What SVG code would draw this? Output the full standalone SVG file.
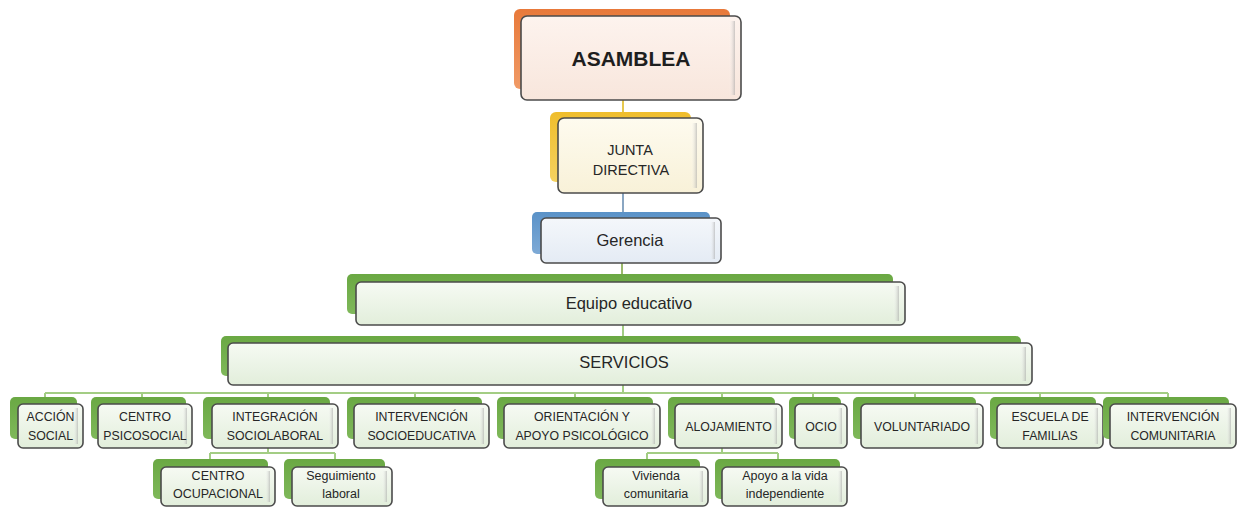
<svg xmlns="http://www.w3.org/2000/svg" width="1241" height="508" viewBox="0 0 1241 508">
  <defs>
    <linearGradient id="fillGreen" x1="0" y1="0" x2="0" y2="1">
      <stop offset="0" stop-color="#f6faf3"/>
      <stop offset="1" stop-color="#e2eedb"/>
    </linearGradient>
    <linearGradient id="fillPeach" x1="0" y1="0" x2="0" y2="1">
      <stop offset="0" stop-color="#fdf3ee"/>
      <stop offset="1" stop-color="#f8e6dc"/>
    </linearGradient>
    <linearGradient id="fillCream" x1="0" y1="0" x2="0" y2="1">
      <stop offset="0" stop-color="#fefbef"/>
      <stop offset="1" stop-color="#f8f1d8"/>
    </linearGradient>
    <linearGradient id="fillBlue" x1="0" y1="0" x2="0" y2="1">
      <stop offset="0" stop-color="#f4f7fb"/>
      <stop offset="1" stop-color="#e4ebf4"/>
    </linearGradient>
    <linearGradient id="backGreen" x1="0" y1="0" x2="0" y2="1">
      <stop offset="0" stop-color="#6aa843"/>
      <stop offset="1" stop-color="#7fb85a"/>
    </linearGradient>
    <linearGradient id="backOrange" x1="0" y1="0" x2="0" y2="1">
      <stop offset="0" stop-color="#e8793a"/>
      <stop offset="1" stop-color="#f09a66"/>
    </linearGradient>
    <linearGradient id="backYellow" x1="0" y1="0" x2="0" y2="1">
      <stop offset="0" stop-color="#efbd2c"/>
      <stop offset="1" stop-color="#f5d260"/>
    </linearGradient>
    <linearGradient id="backBlue" x1="0" y1="0" x2="0" y2="1">
      <stop offset="0" stop-color="#5a92c8"/>
      <stop offset="1" stop-color="#7eaad6"/>
    </linearGradient>
    <linearGradient id="shade" x1="0" y1="0" x2="1" y2="0">
      <stop offset="0" stop-color="#ffffff" stop-opacity="0"/>
      <stop offset="1" stop-color="#a0a0a0" stop-opacity="0.55"/>
    </linearGradient>
  </defs>
  <style>
    .front { stroke: #4b4b4b; stroke-width: 1.6; }
    .fg { fill: url(#fillGreen); }
    .fo { fill: url(#fillPeach); }
    .fy { fill: url(#fillCream); }
    .fb { fill: url(#fillBlue); }
    .bg { fill: url(#backGreen); }
    .bo { fill: url(#backOrange); }
    .by { fill: url(#backYellow); }
    .bb { fill: url(#backBlue); }
    .shade { fill: url(#shade); }
    text { font-family: "Liberation Sans", Arial, sans-serif; fill: #262626; text-anchor: middle; }
    .title { font-size: 21px; font-weight: bold; fill: #1e1e1e; }
    .mid { font-size: 16.5px; }
    .junta { font-size: 14.5px; }
    .small { font-size: 12.3px; }
    .sub { font-size: 12.5px; }
    .conn { fill: none; stroke: #a3cd84; stroke-width: 2; }
    .c-yellow { stroke: #e6c84e; }
    .c-blue { stroke: #8aa6c2; }
    .c-olive { stroke: #9bb96c; }
  </style>

  <!-- connectors -->
  <g id="connectors">
    <path class="conn c-yellow" d="M623,100 V118"/>
    <path class="conn c-blue" d="M623,193 V218"/>
    <path class="conn c-olive" d="M622,263 V282"/>
    <path class="conn" d="M623,325 V343"/>
    <path class="conn" d="M623,385 V393"/>
    <path class="conn" d="M45,393 H1168"/>
    <path class="conn" d="M45,393 V400 M142,393 V400 M268,393 V400 M415,393 V400 M575,393 V400 M722,393 V400 M813,393 V400 M915,393 V400 M1040,393 V400 M1168,393 V400"/>
    <path class="conn" d="M268,447 V453 M210,453 H335 M210,453 V462 M335,453 V462"/>
    <path class="conn" d="M722,447 V453 M647,453 H778 M647,453 V462 M778,453 V462"/>
  </g>

  <g id="asamblea">
    <rect class="bo" x="514" y="9" width="216" height="80" rx="6"/>
    <rect class="front fo" x="521" y="16" width="220" height="84" rx="6"/>
    <rect class="shade" x="729" y="21" width="6" height="74"/>
    <text class="title" x="631" y="66">ASAMBLEA</text>
  </g>

  <g id="junta-directiva">
    <rect class="by" x="550" y="112" width="141" height="70" rx="6"/>
    <rect class="front fy" x="558" y="118" width="145" height="75" rx="6"/>
    <rect class="shade" x="691" y="123" width="6" height="65"/>
    <text class="junta" x="630" y="155">JUNTA</text>
    <text class="junta" x="631" y="175">DIRECTIVA</text>
  </g>

  <g id="gerencia">
    <rect class="bb" x="532" y="212" width="178" height="42" rx="5"/>
    <rect class="front fb" x="541" y="218" width="180" height="45" rx="5"/>
    <rect class="shade" x="710" y="222" width="5" height="37"/>
    <text class="mid" x="630" y="246">Gerencia</text>
  </g>

  <g id="equipo-educativo">
    <rect class="bg" x="347" y="274" width="546" height="40" rx="5"/>
    <rect class="front fg" x="356" y="282" width="549" height="43" rx="5"/>
    <rect class="shade" x="893" y="286" width="6" height="35"/>
    <text class="mid" x="629" y="309">Equipo educativo</text>
  </g>

  <g id="servicios">
    <rect class="bg" x="221" y="336" width="800" height="40" rx="5"/>
    <rect class="front fg" x="228" y="343" width="804" height="42" rx="5"/>
    <rect class="shade" x="1020" y="347" width="6" height="34"/>
    <text class="mid" x="624" y="368">SERVICIOS</text>
  </g>

  <!-- service units -->
  <g id="accion-social">
    <rect class="bg" x="10" y="397" width="67" height="42" rx="5"/>
    <rect class="front fg" x="18" y="404" width="65" height="44" rx="5"/>
    <rect class="shade" x="73" y="408" width="5" height="36"/>
    <text class="small" x="50.5" y="421">ACCIÓN</text>
    <text class="small" x="50.5" y="440">SOCIAL</text>
  </g>

  <g id="centro-psicosocial">
    <rect class="bg" x="91" y="397" width="95" height="42" rx="5"/>
    <rect class="front fg" x="98" y="404" width="94" height="44" rx="5"/>
    <rect class="shade" x="182" y="408" width="5" height="36"/>
    <text class="small" x="145" y="421">CENTRO</text>
    <text class="small" x="145" y="440">PSICOSOCIAL</text>
  </g>

  <g id="integracion-sociolaboral">
    <rect class="bg" x="203" y="397" width="127" height="42" rx="5"/>
    <rect class="front fg" x="212" y="404" width="126" height="44" rx="5"/>
    <rect class="shade" x="328" y="408" width="5" height="36"/>
    <text class="small" x="275" y="421">INTEGRACIÓN</text>
    <text class="small" x="275" y="440">SOCIOLABORAL</text>
  </g>

  <g id="intervencion-socioeducativa">
    <rect class="bg" x="347" y="397" width="135" height="42" rx="5"/>
    <rect class="front fg" x="354" y="404" width="135" height="44" rx="5"/>
    <rect class="shade" x="479" y="408" width="5" height="36"/>
    <text class="small" x="421.5" y="421">INTERVENCIÓN</text>
    <text class="small" x="421.5" y="440">SOCIOEDUCATIVA</text>
  </g>

  <g id="orientacion-apoyo">
    <rect class="bg" x="497" y="397" width="156" height="42" rx="5"/>
    <rect class="front fg" x="504" y="404" width="156" height="44" rx="5"/>
    <rect class="shade" x="650" y="408" width="5" height="36"/>
    <text class="small" x="582" y="421">ORIENTACIÓN Y</text>
    <text class="small" x="582" y="440">APOYO PSICOLÓGICO</text>
  </g>

  <g id="alojamiento">
    <rect class="bg" x="668" y="397" width="107" height="42" rx="5"/>
    <rect class="front fg" x="675" y="404" width="107" height="44" rx="5"/>
    <rect class="shade" x="772" y="408" width="5" height="36"/>
    <text class="small" x="728.5" y="431">ALOJAMIENTO</text>
  </g>

  <g id="ocio">
    <rect class="bg" x="789" y="397" width="52" height="42" rx="5"/>
    <rect class="front fg" x="795" y="404" width="52" height="44" rx="5"/>
    <rect class="shade" x="837" y="408" width="5" height="36"/>
    <text class="small" x="821" y="431">OCIO</text>
  </g>

  <g id="voluntariado">
    <rect class="bg" x="853" y="397" width="123" height="42" rx="5"/>
    <rect class="front fg" x="861" y="404" width="122" height="44" rx="5"/>
    <rect class="shade" x="973" y="408" width="5" height="36"/>
    <text class="small" x="922" y="431">VOLUNTARIADO</text>
  </g>

  <g id="escuela-familias">
    <rect class="bg" x="990" y="397" width="106" height="42" rx="5"/>
    <rect class="front fg" x="997" y="404" width="106" height="44" rx="5"/>
    <rect class="shade" x="1093" y="408" width="5" height="36"/>
    <text class="small" x="1050" y="421">ESCUELA DE</text>
    <text class="small" x="1050" y="440">FAMILIAS</text>
  </g>

  <g id="intervencion-comunitaria">
    <rect class="bg" x="1103" y="397" width="126" height="42" rx="5"/>
    <rect class="front fg" x="1110" y="404" width="126" height="44" rx="5"/>
    <rect class="shade" x="1226" y="408" width="5" height="36"/>
    <text class="small" x="1173" y="421">INTERVENCIÓN</text>
    <text class="small" x="1173" y="440">COMUNITARIA</text>
  </g>

  <!-- second-level units -->
  <g id="centro-ocupacional">
    <rect class="bg" x="153" y="459" width="115" height="40" rx="5"/>
    <rect class="front fg" x="161" y="467" width="114" height="39" rx="5"/>
    <rect class="shade" x="265" y="471" width="5" height="31"/>
    <text class="sub" x="218" y="480">CENTRO</text>
    <text class="sub" x="218" y="498">OCUPACIONAL</text>
  </g>

  <g id="seguimiento-laboral">
    <rect class="bg" x="284" y="459" width="101" height="40" rx="5"/>
    <rect class="front fg" x="292" y="467" width="100" height="39" rx="5"/>
    <rect class="shade" x="382" y="471" width="5" height="31"/>
    <text class="sub" x="341" y="480">Seguimiento</text>
    <text class="sub" x="341" y="498">laboral</text>
  </g>

  <g id="vivienda-comunitaria">
    <rect class="bg" x="595" y="459" width="105" height="40" rx="5"/>
    <rect class="front fg" x="603" y="467" width="105" height="39" rx="5"/>
    <rect class="shade" x="698" y="471" width="5" height="31"/>
    <text class="sub" x="656" y="480">Vivienda</text>
    <text class="sub" x="656" y="498">comunitaria</text>
  </g>

  <g id="apoyo-vida-independiente">
    <rect class="bg" x="715" y="459" width="125" height="40" rx="5"/>
    <rect class="front fg" x="722" y="467" width="125" height="39" rx="5"/>
    <rect class="shade" x="837" y="471" width="5" height="31"/>
    <text class="sub" x="785" y="480">Apoyo a la vida</text>
    <text class="sub" x="785" y="498">independiente</text>
  </g>
</svg>
